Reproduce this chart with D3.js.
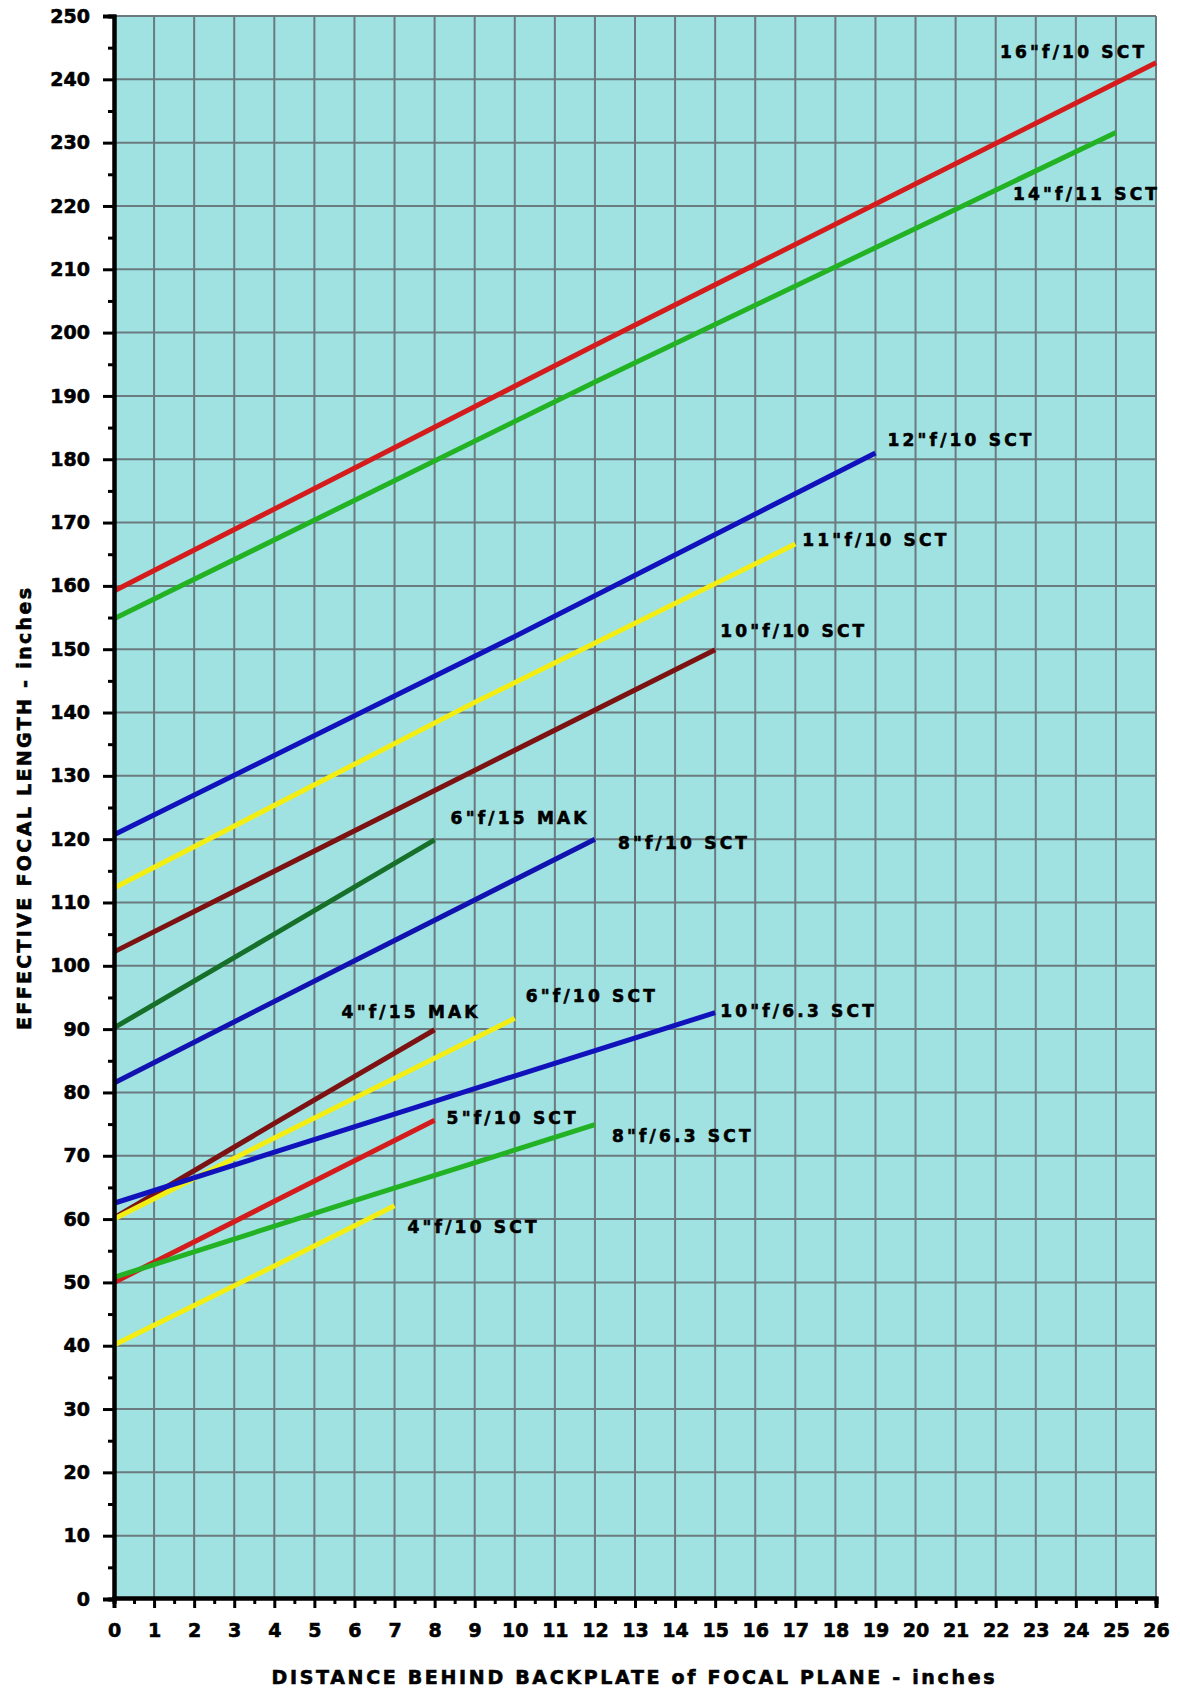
<!DOCTYPE html>
<html>
<head>
<meta charset="utf-8">
<script src="https://cdn.jsdelivr.net/npm/d3@7/dist/d3.min.js"></script>
<style>
  html, body { margin: 0; padding: 0; background: #ffffff; }
  svg { display: block; }
  text { font-family: "DejaVu Sans", sans-serif; font-weight: bold; fill: #000; stroke: #000; stroke-width: 0.6px; }
</style>
</head>
<body>
<script>
// ---------- data ----------
const xTickValues = d3.range(0, 27, 1);
const xMinorValues = d3.range(0.5, 26, 1);
const yTickValues = d3.range(0, 251, 10);
const yMinorValues = d3.range(5, 250, 10);

const seriesNames = [
  '16"f/10 SCT', '14"f/11 SCT', '12"f/10 SCT', '11"f/10 SCT', '10"f/10 SCT',
  '6"f/15 MAK', '8"f/10 SCT', '4"f/15 MAK', '6"f/10 SCT', '10"f/6.3 SCT',
  '5"f/10 SCT', '8"f/6.3 SCT', '4"f/10 SCT'
];
const seriesColors = [
  "#d41c1c", "#22b224", "#1212bc", "#f2ee14", "#7c1212",
  "#16702a", "#1212b0", "#7c1212", "#f2ee14", "#1212bc",
  "#d41c1c", "#22b224", "#f2ee14"
];
const s16sct  = [[0, 159.2], [12, 198.0], [26, 242.6]];
const s14sct  = [[0, 154.8], [12, 192.2], [25, 231.6]];
const s12sct  = [[0, 120.7], [10, 152.0], [19, 181.0]];
const s11sct  = [[0, 112.3], [9, 141.6], [17, 166.6]];
const s10sct  = [[0, 102.2], [8, 127.7], [15, 149.9]];
const s6mak   = [[0, 90.2], [4, 105.0], [8, 119.9]];
const s8sct   = [[0, 81.5], [6, 100.8], [12, 120.0]];
const s4mak   = [[0, 60.2], [4, 75.1], [8, 89.9]];
const s6sct   = [[0, 60.0], [4, 72.8], [10, 91.7]];
const s10f63  = [[0, 62.5], [8, 78.6], [15, 92.6]];
const s5sct   = [[0, 50.0], [4, 62.8], [8, 75.6]];
const s8f63   = [[0, 50.8], [6, 62.9], [12, 74.9]];
const s4sct   = [[0, 40.1], [4, 52.6], [7, 62.1]];
const seriesValues = [s16sct, s14sct, s12sct, s11sct, s10sct, s6mak, s8sct,
                      s4mak, s6sct, s10f63, s5sct, s8f63, s4sct];

const xTitle = "DISTANCE BEHIND BACKPLATE of FOCAL PLANE - inches";
const yTitle = "EFFECTIVE FOCAL LENGTH - inches";

// ---------- layout ----------
const W = 1180, H = 1692;
const plotLeft = 114, plotRight = 1156, plotTop = 16, plotBottom = 1599;
// label offsets (pixels) from each series end point
const labelOffsets = [
  [-156, -11], [-103, 61], [12, -13], [7, -4], [5, -19],
  [16, -22], [23, 4], [-93, -18], [11, -22], [5, -2],
  [12, -2], [17, 11], [13, 21]
];

const svg = d3.select("body").append("svg").attr("width", W).attr("height", H);
svg.append("rect").attr("width", W).attr("height", H).attr("fill", "#ffffff");

const x = d3.scaleLinear().domain([0, 26]).range([plotLeft, plotRight]);
const y = d3.scaleLinear().domain([0, 250]).range([plotBottom, plotTop]);

// plot background
svg.append("rect")
  .attr("x", plotLeft).attr("y", plotTop)
  .attr("width", plotRight - plotLeft).attr("height", plotBottom - plotTop)
  .attr("fill", "#a0e2e2");

// grid
const grid = svg.append("g").attr("stroke", "#6a7a7e").attr("stroke-width", 2);
grid.selectAll("line.v").data(xTickValues.filter(d => d > 0)).join("line")
  .attr("class", "v")
  .attr("x1", d => x(d)).attr("x2", d => x(d))
  .attr("y1", plotTop).attr("y2", plotBottom);
grid.selectAll("line.h").data(yTickValues.filter(d => d > 0)).join("line")
  .attr("class", "h")
  .attr("x1", plotLeft).attr("x2", plotRight)
  .attr("y1", d => y(d)).attr("y2", d => y(d));

// series lines
const line = d3.line().x(d => x(d[0])).y(d => y(d[1]));
svg.append("g").selectAll("path").data(seriesValues).join("path")
  .attr("d", line)
  .attr("fill", "none")
  .attr("stroke", (d, i) => seriesColors[i])
  .attr("stroke-width", 5)
  .attr("stroke-linecap", "butt");

// series labels
svg.append("g").selectAll("text").data(seriesValues).join("text")
  .attr("x", (d, i) => x(d[d.length - 1][0]) + labelOffsets[i][0])
  .attr("y", (d, i) => y(d[d.length - 1][1]) + labelOffsets[i][1])
  .attr("dominant-baseline", "central")
  .attr("font-size", 17)
  .attr("letter-spacing", 3.2)
  .text((d, i) => seriesNames[i]);

// axes
const yAxisMajor = d3.axisLeft(y).tickValues(yTickValues).tickSize(11).tickPadding(13)
  .tickFormat(d3.format("d"));
const yAxisMinor = d3.axisLeft(y).tickValues(yMinorValues).tickSize(6).tickFormat("");
const xAxisMajor = d3.axisBottom(x).tickValues(xTickValues).tickSize(10).tickPadding(16)
  .tickFormat(d3.format("d"));
const xAxisMinor = d3.axisBottom(x).tickValues(xMinorValues).tickSize(6).tickFormat("");

function styleAxis(g) {
  g.select(".domain").attr("stroke", "#000").attr("stroke-width", 4);
  g.selectAll(".tick line").attr("stroke", "#000").attr("stroke-width", 3);
  g.selectAll(".tick text").attr("font-size", 19)
    .attr("font-family", '"DejaVu Sans", sans-serif').attr("font-weight", "bold").attr("fill", "#000");
}

svg.append("g").attr("transform", `translate(${plotLeft},0)`).call(yAxisMinor).call(styleAxis);
svg.append("g").attr("transform", `translate(${plotLeft},0)`).call(yAxisMajor).call(styleAxis);
svg.append("g").attr("transform", `translate(0,${plotBottom - 1})`).call(xAxisMinor).call(styleAxis);
svg.append("g").attr("transform", `translate(0,${plotBottom - 1})`).call(xAxisMajor).call(styleAxis);

// axis titles
svg.append("text")
  .attr("x", 633).attr("y", 1677)
  .attr("text-anchor", "middle").attr("dominant-baseline", "central")
  .attr("font-size", 19)
  .attr("textLength", 723).attr("lengthAdjust", "spacing")
  .text(xTitle);

svg.append("text")
  .attr("transform", "translate(24,809) rotate(-90)")
  .attr("text-anchor", "middle").attr("dominant-baseline", "central")
  .attr("font-size", 19)
  .attr("textLength", 442).attr("lengthAdjust", "spacing")
  .text(yTitle);
</script>
</body>
</html>
